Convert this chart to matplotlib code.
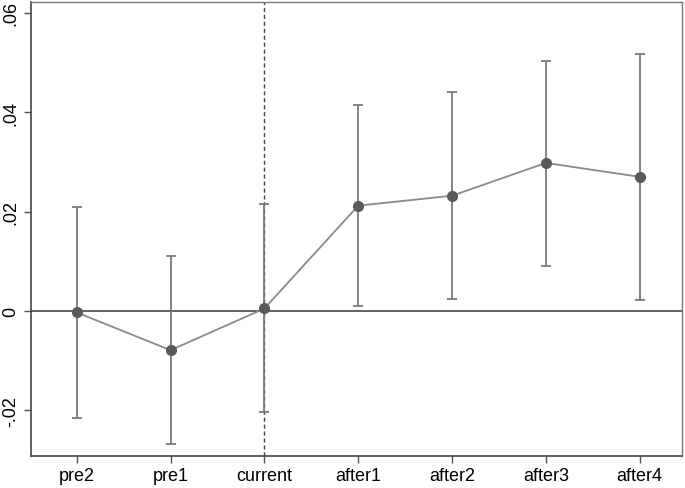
import numpy as np
import matplotlib
matplotlib.use("Agg")
import matplotlib.pyplot as plt

plt.rcParams['font.family'] = ['Liberation Sans', 'DejaVu Sans']

# event-study estimates and 95% CI bounds
periods = ['pre2', 'pre1', 'current', 'after1', 'after2', 'after3', 'after4']
coef = [-0.0003, -0.0079, 0.0005, 0.0212, 0.0232, 0.0298, 0.0270]
ci_low = [-0.0215, -0.0268, -0.0204, 0.0010, 0.0024, 0.0091, 0.0022]
ci_high = [0.0210, 0.0111, 0.0216, 0.0415, 0.0441, 0.0503, 0.0517]
yticks = [-0.02, 0, 0.02, 0.04, 0.06]
ylabels = ['-.02', '0', '.02', '.04', '.06']

x = np.arange(len(periods))
coef = np.array(coef)
lo = coef - np.array(ci_low)
hi = np.array(ci_high) - coef

fig = plt.figure(figsize=(6.85, 4.89), dpi=100)
ax = fig.add_axes([0.045, 0.0654, 0.9505, 0.9285])

ax.axhline(0, color='#555555', lw=1.3, zorder=1)
ax.axvline(2, color='#444444', lw=1.0, ls=(0, (3, 2)), zorder=1)

ax.errorbar(x, coef, yerr=[lo, hi], fmt='none', ecolor='#7a7a7a',
            elinewidth=1.3, capsize=3.6, capthick=1.3, zorder=2)
ax.plot(x, coef, color='#8a8a8a', lw=1.3, zorder=3)
ax.plot(x, coef, 'o', color='#5a5a5a', ms=7, zorder=4)

ax.set_xlim(-0.49, 6.45)
ax.set_ylim(-0.0292, 0.0622)
ax.set_xticks(x)
ax.set_xticklabels(periods, fontsize=13)
ax.set_yticks(yticks)
ax.set_yticklabels(ylabels, fontsize=13, rotation=90, va='center')
ax.tick_params(direction='out', length=5, width=1, color='#555555', pad=3)

for s in ax.spines.values():
    s.set_color('#444444')
    s.set_linewidth(1.2)
ax.spines['top'].set_color('#777777')
ax.spines['right'].set_color('#777777')
ax.spines['top'].set_linewidth(1.0)
ax.spines['right'].set_linewidth(1.0)

fig.savefig('out.png', dpi=100)
